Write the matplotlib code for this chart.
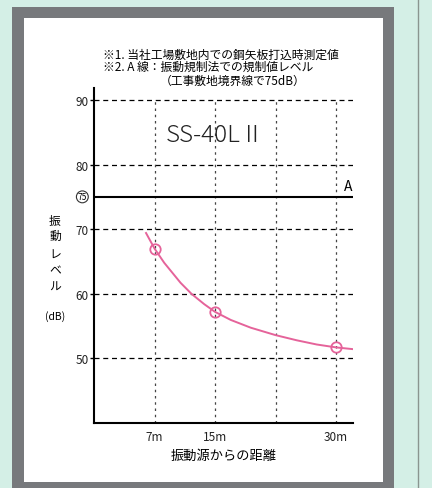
import matplotlib.pyplot as plt
import matplotlib.transforms as mtransforms
from matplotlib.patches import Rectangle
from matplotlib.lines import Line2D

plt.rcParams['font.family'] = ['Noto Sans CJK JP', 'DejaVu Sans']

# measured points (distance slot, dB)
dist_pos = [1, 2, 4]
dist_labels = ['7m', '15m', '30m']
level = [67.0, 57.2, 51.7]

# fitted curve
curve_x = [0.86, 1.0, 1.16, 1.43, 1.61, 1.82, 2.0, 2.26, 2.59, 3.0, 3.35, 3.68, 4.0, 4.31]
curve_y = [69.4, 67.0, 64.8, 61.7, 60.0, 58.4, 57.2, 55.95, 54.75, 53.6, 52.8, 52.15, 51.7, 51.4]

grid_y = [50, 60, 70, 80, 90]
grid_x = [1, 2, 3, 4]
limit_db = 75

mint = '#d4efe6'
frame_gray = '#77797c'
pink = '#e5639a'

W, H = 432, 489
fig = plt.figure(figsize=(4.32, 4.89), dpi=100)
fig.patch.set_facecolor(mint)

def px_rect(x0, y0, x1, y1, **kw):
    fig.add_artist(Rectangle((x0 / W, 1 - y1 / H), (x1 - x0) / W, (y1 - y0) / H,
                             transform=fig.transFigure, zorder=-10, **kw))

px_rect(12, 8, 394, 492, facecolor=frame_gray, edgecolor='none')
px_rect(24, 19, 383, 483, facecolor='white', edgecolor='none')
fig.add_artist(Line2D([418 / W, 418 / W], [0, 1], transform=fig.transFigure,
                      color='#8a9590', lw=1, zorder=-10))

ax = fig.add_axes([94 / W, 1 - 424 / H, 259 / W, 336 / H])
ax.set_facecolor('none')
ax.set_xlim(0, 4.28)
ax.set_ylim(40, 92)

for v in grid_y:
    ax.axhline(v, color='black', lw=0.9, dashes=(4, 3), zorder=1)
for v in grid_x:
    ax.axvline(v, ymax=(90 - 40) / 52, color='#444444', lw=0.9, dashes=(2, 3), zorder=1)
ax.axhline(limit_db, color='black', lw=1.5, zorder=2)

ax.plot(curve_x, curve_y, color=pink, lw=1.4, zorder=3)
ax.plot(dist_pos, level, 'o', ms=7.5, mfc='none', mec=pink, mew=1.3, zorder=4)

for s in ['top', 'right']:
    ax.spines[s].set_visible(False)
for s in ['left', 'bottom']:
    ax.spines[s].set_linewidth(1.5)
ax.spines['left'].set_bounds(40, 91.8)

ax.set_yticks(grid_y)
ax.set_yticklabels([str(v) for v in grid_y], fontsize=8.5, color='#222222')
ax.tick_params(axis='y', length=3, width=1, pad=1)
ax.set_xticks(dist_pos)
ax.set_xticklabels(dist_labels, fontsize=8.5, color='#222222')
ax.tick_params(axis='x', length=0, pad=5)

# circled 75 on the y axis
tr = mtransforms.blended_transform_factory(ax.transAxes, ax.transData)
ax.text(-0.045, limit_db, '75', transform=tr, ha='center', va='center', fontsize=6,
        bbox=dict(boxstyle='circle,pad=0.15', fc='white', ec='#333333', lw=0.8))
ax.text(4.2, limit_db + 0.6, 'A', ha='center', va='bottom', fontsize=10)

ax.text(2.0, 84.6, 'SS-40LⅡ', ha='center', va='center', fontsize=17.5,
        fontweight='light', color='#222222')

ax.set_xlabel('振動源からの距離', fontsize=9.5, labelpad=4)

# stacked y label
for ch, yp in zip('振動レベル', [221.7, 236.7, 255, 271, 287]):
    fig.text(55 / W, 1 - yp / H, ch, ha='center', va='center', fontsize=8.5)
fig.text(55 / W, 1 - 316.7 / H, '(dB)', ha='center', va='center', fontsize=7.5)

fig.text(103 / W, 1 - 55 / H, '※1. 当社工場敷地内での鋼矢板打込時測定値',
         ha='left', va='center', fontsize=8.5)
fig.text(103 / W, 1 - 67.5 / H, '※2. A 線：振動規制法での規制値レベル',
         ha='left', va='center', fontsize=8.5)
fig.text(160 / W, 1 - 81.7 / H, '（工事敷地境界線で75dB）',
         ha='left', va='center', fontsize=8.5)

fig.savefig('out.png', dpi=100, facecolor=fig.get_facecolor())
